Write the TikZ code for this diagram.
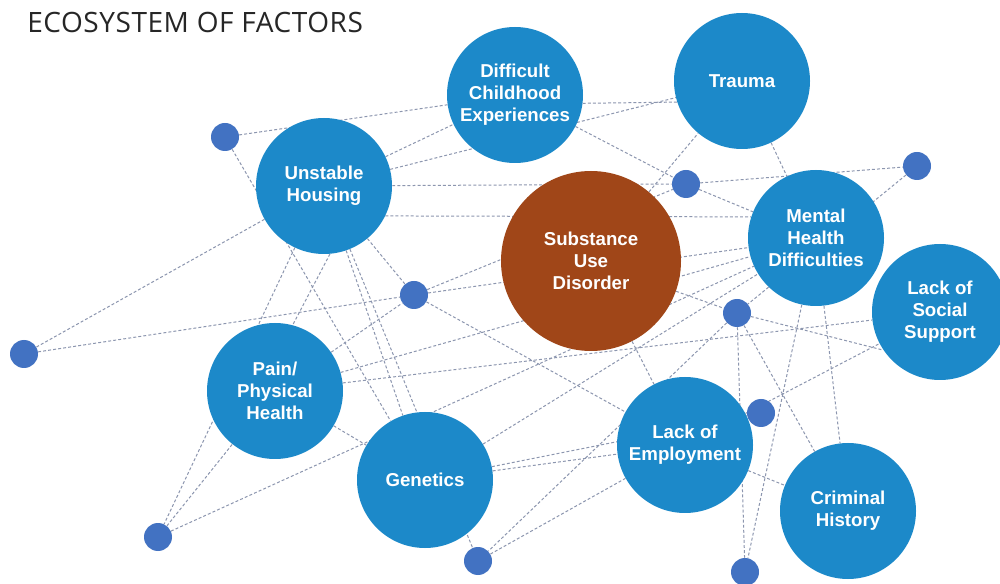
\documentclass[tikz,border=0pt]{standalone}
\usepackage{fontspec}
\newfontfamily\labelfont{Liberation Sans}
\newfontfamily\titlefont{Open Sans}[LetterSpace=2]
\usetikzlibrary{backgrounds}
\definecolor{cblue}{RGB}{28,137,201}
\definecolor{cdot}{RGB}{66,114,194}
\definecolor{cbrown}{RGB}{160,70,24}
\definecolor{clink}{RGB}{140,150,175}
\definecolor{ctitle}{RGB}{38,38,38}
\begin{document}
\begin{tikzpicture}[x=0.75pt,y=-0.75pt,
  big/.style={circle,fill=cblue,minimum size=102pt,inner sep=0pt,text=white,align=center,
    font=\labelfont\bfseries\fontsize{14}{16.5}\selectfont},
  core/.style={big,fill=cbrown,minimum size=135pt},
  dot/.style={circle,fill=cdot,minimum size=21pt,inner sep=0pt},
  link/.style={draw=clink,line width=0.75pt,dash pattern=on 2.2pt off 1.6pt}]
\useasboundingbox (0,0) rectangle (1000,584);

\node[anchor=base west,inner sep=0pt,text=ctitle,font=\titlefont\fontsize{21}{24}\selectfont] (title) at (27,33) {ECOSYSTEM OF FACTORS};

% main factors
\node[big] (DCE) at (515,95) {Difficult\\Childhood\\Experiences};
\node[big] (TR) at (742,81) {Trauma};
\node[big] (UH) at (324,186) {Unstable\\Housing};
\node[core] (SUD) at (591,261) {Substance\\Use\\Disorder};
\node[big] (MHD) at (816,238) {Mental\\Health\\Difficulties};
\node[big] (LSS) at (940,312) {Lack of\\Social\\Support};
\node[big] (PPH) at (275,391) {Pain/\\Physical\\Health};
\node[big] (GEN) at (425,480) {Genetics};
\node[big] (LOE) at (685,445) {Lack of\\Employment};
\node[big] (CRH) at (848,511) {Criminal\\History};

% small dots
\node[dot] (d1) at (225,137) {};
\node[dot] (d2) at (414,295) {};
\node[dot] (d3) at (686,184) {};
\node[dot] (d4) at (917,166) {};
\node[dot] (d5) at (24,354) {};
\node[dot] (d6) at (158,537) {};
\node[dot] (d7) at (478,561) {};
\node[dot] (d8) at (737,313) {};
\node[dot] (d9) at (761,413) {};
\node[dot] (d10) at (745,572) {};

\begin{scope}[on background layer]
\fill[white] (0,0) rectangle (1000,584);
\draw[link] (d1) -- (DCE);
\draw[link] (d1) -- (GEN);
\draw[link] (DCE.-7) -- (TR.198);
\draw[link] (UH) -- (DCE);
\draw[link] (UH) -- (TR);
\draw[link] (UH) -- (d3);
\draw[link] (UH.-26) -- (MHD.162);
\draw[link] (d5) -- (UH);
\draw[link] (d5) -- (d2);
\draw[link] (DCE) -- (d3);
\draw[link] (d3) -- (MHD);
\draw[link] (d3) -- (d4);
\draw[link] (d4) -- (d8);
\draw[link] (TR) -- (MHD);
\draw[link] (SUD) -- (TR);
\draw[link] (d2) -- (d3);
\draw[link] (d2) -- (MHD);
\draw[link] (d2) -- (LOE);
\draw[link] (UH) -- (d2);
\draw[link] (UH.-85) -- (PPH.75);
\draw[link] (UH) -- (d6);
\draw[link] (UH) -- (GEN);
\draw[link] (UH) -- (d7);
\draw[link] (PPH) -- (d2);
\draw[link] (PPH) -- (MHD);
\draw[link] (PPH) -- (LSS);
\draw[link] (PPH) -- (GEN);
\draw[link] (d6) -- (PPH);
\draw[link] (d6) -- (MHD);
\draw[link] (GEN) -- (MHD);
\draw[link] (GEN) -- (LOE);
\draw[link] (GEN) -- (d9);
\draw[link] (d7) -- (LOE);
\draw[link] (d8) -- (d7);
\draw[link] (SUD) -- (LOE);
\draw[link] (SUD) -- (d8);
\draw[link] (d8) -- (LSS.214);
\draw[link] (d8) -- (d10);
\draw[link] (d8) -- (CRH);
\draw[link] (MHD) -- (d10);
\draw[link] (MHD) -- (CRH);
\draw[link] (LOE) -- (LSS);
\draw[link] (LOE) -- (CRH);
\end{scope}
\end{tikzpicture}
\end{document}
